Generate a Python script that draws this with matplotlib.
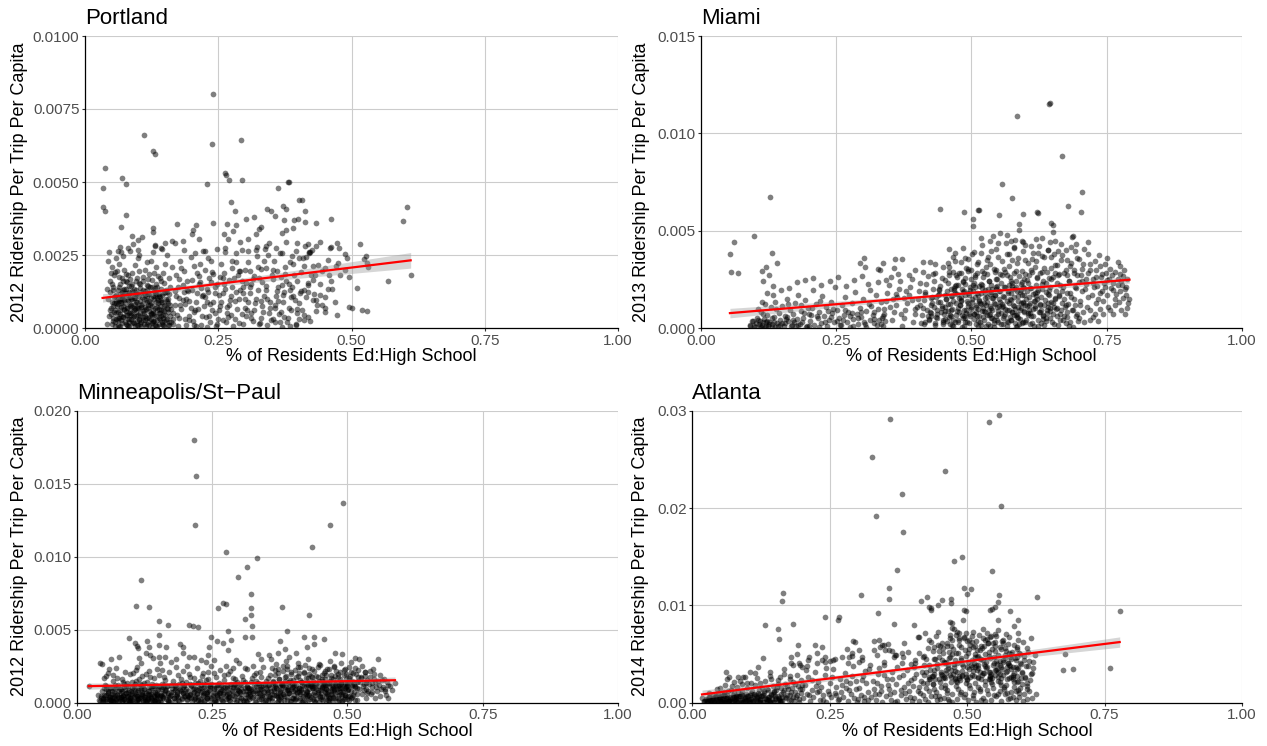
import matplotlib
matplotlib.use("Agg")
import matplotlib.pyplot as plt
import numpy as np

plt.rcParams['font.family'] = ['Liberation Sans', 'DejaVu Sans']

# (share of residents with high school education, ridership per trip per capita x 1e4)
portland = [
    (0.241,80.0),(0.239,63.0),(0.292,64.4),(0.111,66.1),(0.128,60.7),(0.131,59.5),
    (0.038,54.9),(0.034,47.8),(0.033,41.3),(0.038,40.0),(0.070,51.4),(0.076,49.3),(0.077,38.7),
    (0.228,49.3),(0.262,53.0),(0.264,52.4),(0.270,50.8),(0.294,50.8),(0.363,47.8),(0.381,50.0),(0.383,50.0),
    (0.401,43.8),(0.371,41.9),(0.377,40.8),(0.341,40.8),(0.349,40.1),(0.356,38.5),(0.274,43.1),(0.281,40.1),
    (0.241,36.1),(0.413,40.2),(0.392,37.0),(0.407,44.0),(0.413,36.4),(0.433,35.8),(0.461,37.4),(0.400,37.3),
    (0.604,41.5),(0.597,36.6),(0.172,35.5),(0.0675,34.5),(0.0875,31.6),(0.099,30.1),(0.1075,31.2),(0.128,34.1),(0.127,33.0),
    (0.203,33.6),(0.209,35.3),(0.200,32.1),(0.214,30.4),(0.266,35.5),(0.2825,35.3),(0.261,32.2),(0.278,33.2),(0.2675,30.4),
    (0.306,30.4),(0.320,32.2),(0.303,37.3),(0.330,34.5),(0.326,33.8),(0.3175,38.1),(0.374,36.9),(0.378,33.6),(0.390,34.4),(0.370,32.6),
    (0.516,28.9),
    (0.184,29.9),(0.164,29.8),(0.290,29.6),(0.346,29.2),(0.340,28.1),(0.359,27.3),(0.377,29.6),(0.397,29.2),(0.4125,28.1),(0.420,25.6),(0.425,26.7),(0.440,29.6),(0.459,27.3),
    (0.322,27.6),(0.320,26.7),(0.344,25.0),(0.370,25.6),(0.3875,24.7),(0.409,23.9),
    (0.169,29.0),(0.150,29.0),(0.131,28.4),(0.1425,27.3),(0.100,26.7),(0.081,27.3),(0.066,27.9),(0.0625,26.4),(0.045,26.1),(0.090,28.8),
    (0.186,26.7),(0.206,25.6),(0.222,26.5),(0.231,23.9),(0.248,26.9),(0.2625,26.1),(0.284,25.6),(0.294,26.7),
    (0.473,29.2),(0.477,27.5),(0.461,27.6),(0.487,25.4),(0.491,23.9),(0.433,28.2),(0.419,28.8),(0.4205,25.9),(0.4225,25.9),(0.414,24.4),
    (0.528,24.7),(0.524,23.6),(0.530,22.1),(0.531,21.0),
    (0.410,21.2),(0.4275,21.2),(0.450,20.4),(0.470,21.2),(0.4745,22.3),
    (0.487,19.8),(0.458,18.2),(0.4775,18.2),(0.496,17.5),(0.431,18.2),(0.428,16.4),(0.419,14.7),(0.410,13.0),(0.414,10.7),(0.419,12.4),
    (0.451,10.5),(0.434,9.6),(0.436,8.0),(0.4455,8.0),(0.4185,3.6),(0.422,2.3),(0.469,8.8),(0.4075,6.3),(0.410,4.6),
    (0.511,13.8),(0.496,7.3),(0.501,6.7),(0.5205,6.2),(0.529,5.7),(0.568,16.2),(0.611,18.3),
    (0.44,15.0),(0.455,13.5),(0.462,16.0),(0.445,19.5),(0.43,11.5),(0.45,5.5),
    (0.042,1.5),(0.045,4),(0.048,7),(0.044,10),(0.047,12.5),(0.052,2.5),(0.055,5.5),(0.05,9),(0.053,14),(0.057,11),
    (0.058,3),(0.06,7.5),(0.041,13.5),(0.046,16),(0.055,18),(0.05,21),(0.043,23),(0.06,19.5),(0.058,24),(0.048,19),
    (0.062,1),(0.064,3.5),(0.066,6),(0.068,8.5),(0.07,11),(0.072,13),(0.065,15),(0.075,2),(0.077,4.5),(0.079,7),
    (0.074,9.5),(0.078,12),(0.061,10),(0.069,17),(0.073,20),(0.076,16),(0.063,22),(0.071,24.5),(0.08,18),(0.067,26),
    (0.081,0.8),(0.083,3),(0.085,5.5),(0.087,8),(0.089,10),(0.082,12.5),(0.086,14.5),(0.09,2),(0.092,4),(0.094,6.5),
    (0.096,9),(0.098,11.5),(0.091,13.5),(0.095,16),(0.088,19),(0.093,21.5),(0.099,24),(0.084,26.5),(0.097,1),(0.1,7),
    (0.101,3),(0.103,5),(0.105,8),(0.107,10.5),(0.109,13),(0.111,1.5),(0.113,4),(0.115,6.5),(0.117,9),(0.119,11.5),
    (0.104,15),(0.108,17.5),(0.112,20),(0.116,22.5),(0.102,25),(0.118,14.5),(0.106,2),(0.114,0.8),(0.11,6),(0.12,3.5),
    (0.121,1),(0.123,5),(0.125,7.5),(0.127,2.5),(0.129,10),(0.131,12.5),(0.122,14),(0.126,16.5),(0.13,19),(0.134,21),
    (0.133,4),(0.135,6),(0.137,8.5),(0.139,1.5),(0.124,23),(0.128,26),(0.132,28),(0.136,14),(0.138,11),(0.14,17),
    (0.141,3),(0.143,6),(0.145,9),(0.147,1),(0.149,12),(0.151,4.5),(0.153,7),(0.155,10),(0.157,2),(0.159,14),
    (0.142,16),(0.146,19),(0.15,22),(0.154,25),(0.158,17),(0.144,27),(0.148,0.8),(0.152,13),(0.156,5.5),(0.16,8),
    (0.051,1.2),(0.053,3.3),(0.056,6.1),(0.059,8.4),(0.054,10.6),(0.057,0.6),(0.062,2.7),(0.065,4.9),(0.067,7.2),(0.063,9.1),
    (0.066,11.8),(0.069,1.8),(0.071,3.9),(0.073,6.4),(0.075,8.7),(0.072,10.9),(0.078,0.9),(0.08,3.2),(0.082,5.3),(0.084,7.6),
    (0.086,9.8),(0.081,11.4),(0.088,1.6),(0.09,3.7),(0.092,6.0),(0.094,8.2),(0.091,10.3),(0.096,12.1),(0.098,2.4),(0.1,4.6),
    (0.102,6.8),(0.104,9.3),(0.101,11.0),(0.106,0.7),(0.108,2.9),(0.11,5.1),(0.112,7.3),(0.114,9.7),(0.111,12.0),(0.116,1.4),
    (0.118,3.6),(0.12,5.8),(0.122,8.0),(0.124,10.2),(0.121,11.9),(0.126,0.5),(0.128,2.2),(0.13,4.4),(0.132,6.7),(0.134,8.9),
    (0.131,10.8),(0.136,2.8),(0.138,5.0),(0.14,7.4),(0.142,9.5),(0.139,11.6),(0.144,1.3),(0.146,3.4),(0.148,5.7),(0.15,7.9),
    (0.152,10.0),(0.154,3.0),(0.156,8.6),(0.158,0.9),(0.16,4.2),(0.058,5.0),(0.07,9.9),(0.083,2.1),(0.095,5.4),(0.107,8.1),
    (0.119,1.9),(0.127,6.2),(0.135,0.6),(0.143,4.1),(0.061,12.9),(0.076,13.4),(0.089,12.7),(0.103,13.8),(0.117,13.1),(0.129,12.6),
    (0.145,11.3),(0.052,7.7),(0.064,0.5),(0.077,5.9),(0.093,0.8),(0.109,3.8),(0.123,3.1),(0.137,9.6),(0.149,2.5),(0.155,6.4),
    (0.085,10.6),(0.097,7.1),(0.113,11.2),(0.125,4.7),(0.133,11.5),(0.141,5.2),(0.153,12.4),(0.068,4.0),(0.079,10.1),(0.087,4.5),
    (0.047,6.3),(0.083,0.4),(0.121,9.2),(0.064,14.1),(0.139,3.3),(0.098,17.2),(0.056,2.1),(0.112,12.6),(0.071,7.7),(0.149,15.4),
    (0.087,5.1),(0.126,1.8),(0.059,11.3),(0.104,4.2),(0.143,8.8),(0.076,18.6),(0.118,6.7),(0.051,15.2),(0.094,10.4),(0.132,13.7),
    (0.068,2.9),(0.155,1.1),(0.081,9.6),(0.109,16.1),(0.062,5.5),(0.127,11.1),(0.099,0.9),(0.146,6.2),(0.073,13.2),(0.115,3.4),
    (0.054,8.4),(0.137,17.9),(0.089,7.2),(0.123,4.9),(0.066,10.1),(0.151,12.2),(0.102,2.6),(0.079,15.8),(0.134,0.7),(0.057,19.3),
    (0.096,13.1),(0.119,7.9),(0.072,3.7),(0.141,10.7),(0.085,16.7),(0.108,5.9),(0.061,8.1),(0.129,2.4),(0.093,11.8),(0.153,9.1),
    (0.077,1.3),(0.116,14.6),(0.049,4.7),(0.138,6.4),(0.101,19.6),(0.069,12.3),(0.124,8.5),(0.086,3.1),(0.147,4.4),(0.063,17.4),
    (0.111,9.9),(0.091,1.6),(0.133,15.1),(0.074,6.1),(0.157,11.6),(0.105,7.1),(0.053,12.9),(0.128,5.3),(0.082,14.4),(0.144,2.2),
    (0.097,8.9),(0.066,0.8),(0.121,18.4),(0.088,12.1),(0.161,6.6),(0.113,2.9),(0.058,9.3),(0.136,10.3),(0.079,4.6),(0.102,15.5),
    (0.166,3.1),(0.071,16.2),(0.125,13.9),(0.092,6.9),(0.148,7.6),(0.061,3.4),(0.117,10.9),(0.084,8.2),(0.131,0.9),(0.106,12.5),
    (0.075,11.9),(0.142,13.3),(0.095,4.1),(0.119,16.8),(0.067,9.4),(0.152,2.7),(0.089,14.9),(0.135,7.3),(0.103,1.2),(0.078,6.8),
    (0.162,2),(0.165,5),(0.168,8),(0.171,11),(0.174,14),(0.177,3.5),(0.18,6.5),(0.183,9.5),(0.186,12.5),(0.189,1),
    (0.192,16),(0.195,4),(0.198,7),(0.17,18),(0.185,19.5),(0.175,0.7),(0.19,10),(0.2,13),(0.163,21),(0.178,23),
    (0.202,2.5),(0.205,5.5),(0.208,9),(0.211,12),(0.214,15),(0.217,1),(0.22,4),(0.223,7.5),(0.226,10.5),(0.229,13.5),
    (0.232,17),(0.235,2),(0.238,6),(0.241,9),(0.244,12),(0.247,15),(0.25,3),(0.21,19),(0.225,20),(0.24,18.5),
    (0.215,22),(0.236,23),(0.245,0.8),(0.228,0.5),
    (0.252,6),(0.255,9),(0.258,12),(0.261,15),(0.264,2),(0.267,5),(0.27,8),(0.273,11),(0.276,14),(0.279,17),
    (0.282,3),(0.285,6.5),(0.288,10),(0.291,13),(0.294,16),(0.297,1.5),(0.3,7),(0.26,19),(0.275,20.5),(0.29,19.5),
    (0.256,22),(0.283,22.5),(0.3,20),
    (0.303,4),(0.306,9),(0.309,12),(0.312,15),(0.315,2.5),(0.318,6),(0.321,10),(0.324,13),(0.327,17),(0.33,3.5),
    (0.333,7.5),(0.336,11),(0.339,14.5),(0.342,1),(0.345,5),(0.348,9),(0.35,18),(0.31,19.5),(0.325,21),(0.34,20.5),
    (0.305,22.5),(0.335,23),
    (0.353,3),(0.356,7),(0.359,11),(0.362,14),(0.365,2),(0.368,5.5),(0.371,9),(0.374,12.5),(0.377,16),(0.38,3.5),
    (0.383,7),(0.386,10.5),(0.389,14),(0.392,18),(0.395,1.5),(0.398,5),(0.401,8.5),(0.404,12),(0.36,19.5),(0.375,21),
    (0.39,22),(0.355,23),(0.385,0.8),(0.37,0.5),
    (0.165,1.5),(0.172,4.5),(0.179,7.8),(0.188,3.2),(0.196,9.4),(0.204,1.1),(0.212,6.6),(0.219,10.8),(0.227,3.9),(0.234,8.2),
    (0.243,5.1),(0.251,11.4),(0.259,2.6),(0.266,7.3),(0.274,4.4),(0.281,9.1),(0.289,1.8),(0.296,11.9),(0.304,6.2),(0.311,3.3),
    (0.319,8.4),(0.326,1.2),(0.334,5.6),(0.341,10.1),(0.349,2.9),(0.357,7.9),(0.364,4.8),(0.372,11.2),(0.379,1.9),(0.387,6.3),
    (0.394,9.7),(0.402,3.1),(0.169,12.6),(0.183,14.8),(0.201,16.5),(0.218,13.7),(0.237,15.9),(0.253,17.3),(0.271,16.4),(0.287,18.1),
    (0.302,15.3),(0.317,17.8),(0.333,15.6),(0.352,16.8),(0.367,17.4),(0.382,15.2),(0.398,16.1),(0.406,19.2),(0.176,10.2),(0.193,12.8),
    (0.209,0.6),(0.231,12.3),(0.262,13.4),(0.278,0.7),(0.309,13.9),(0.331,9.2),(0.361,12.6),(0.384,13.1),(0.396,0.9),(0.214,17.9),
    (0.187,8.1),(0.243,14.2),(0.311,5.3),(0.376,18.4),(0.428,9.7),(0.205,21.3),(0.268,3.6),(0.339,12.9),(0.402,24.1),(0.451,6.8),
    (0.221,11.4),(0.289,19.6),(0.357,2.2),(0.418,15.3),(0.176,16.7),(0.254,7.4),(0.323,24.6),(0.391,10.9),(0.463,13.2),(0.233,4.1),
    (0.301,9.8),(0.369,14.6),(0.437,21.7),(0.196,2.8),(0.276,22.8),(0.347,6.7),(0.411,2.9),(0.215,15.9),(0.283,12.2),(0.352,19.9),
    (0.472,4.4),(0.181,20.4),(0.258,17.1),(0.329,1.6),(0.398,6.4),(0.226,26.3),(0.294,4.9),(0.362,9.2),(0.424,18.1),(0.191,12.9),
    (0.247,1.4),(0.316,16.8),(0.384,22.6),(0.456,23.4),(0.207,6.2),(0.272,9.5),(0.337,27.1),(0.405,12.6),(0.238,19.3),(0.305,26.4),
    (0.373,3.9),(0.441,11.3),(0.199,24.2),(0.263,27.4),(0.331,20.3),(0.395,26.2),(0.228,8.9),(0.297,14.1),(0.366,25.8),(0.433,5.7),
]

miami = [
    (0.1274,67.4),(0.098,47.4),(0.062,44.0),(0.054,37.8),(0.0565,28.6),(0.0695,28.4),(0.132,38.4),(0.1415,33.2),
    (0.1215,31.2),(0.113,29.5),(0.126,27.0),(0.116,24.0),(0.134,21.8),(0.122,18.0),(0.113,13.6),
    (0.4427,61.3),(0.643,115.0),(0.645,115.5),(0.584,109.0),(0.668,88.2),(0.557,74.1),(0.576,66.6),(0.704,70.0),
    (0.678,62.7),(0.702,59.8),(0.512,60.5),(0.514,60.6),(0.5025,56.2),(0.5025,52.4),(0.486,59.4),(0.552,58.2),
    (0.595,58.4),(0.621,59.6),(0.623,59.0),(0.588,53.5),(0.588,50.1),(0.647,53.8),(0.6515,53.0),(0.6515,49.5),
    (0.6865,46.9),(0.688,47.2),(0.715,44.2),
    (0.518,46.1),(0.5345,44.7),(0.5405,47.3),(0.553,48.6),(0.565,47.9),(0.581,45.2),(0.593,44.7),
    (0.75,36.1),(0.735,37.5),(0.7745,32.0),(0.782,29.8),(0.79,12.7),(0.788,10.1),(0.762,7.2),(0.744,7.2),(0.7345,3.8),
    (0.78,15.5),(0.775,19),(0.785,17),(0.765,15),(0.768,17.5),(0.772,13.5),(0.74,26),(0.748,28),(0.755,25),(0.745,23),
    (0.76,27),(0.77,22),(0.758,20.5),(0.752,11),(0.776,9),(0.73,13),(0.738,18),(0.727,21),(0.72,9),(0.725,5.5),
    (0.715,16),(0.712,25),(0.705,19),(0.7,12),(0.695,7),(0.708,3),
    (0.5643,43.8),(0.5797,41.8),(0.5951,39.3),(0.6105,42.1),(0.6228,38.4),(0.6413,40.1),(0.6475,36.3),(0.66,39.3),
    (0.6753,40.1),(0.6907,39.3),(0.7079,40.8),(0.546,40.4),(0.5304,36.6),(0.5128,34.1),(0.4943,35.3),(0.4697,34.6),
    (0.4326,32.7),(0.4234,34.1),(0.3589,35.3),(0.3712,35.3),(0.3362,33.6),(0.331,29.8),
    (0.294,33.2),(0.302,36.1),(0.3035,31.4),(0.328,30.1),(0.358,30.6),(0.396,29.7),(0.411,34.0),(0.433,28.0),(0.448,31.4),(0.4575,33.2),
    (0.47,38.5),(0.49,31),(0.505,39),(0.52,29.5),(0.535,33),(0.55,36.5),(0.56,30.5),(0.57,38),(0.585,33.5),(0.6,35),
    (0.61,30),(0.62,34.5),(0.635,31),(0.645,44),(0.655,32.5),(0.665,35),(0.675,30),(0.685,33.5),(0.695,36),(0.705,30.5),
    (0.72,33),(0.73,30),(0.62,45.5),(0.6,42.5),(0.665,43),(0.63,37),(0.575,35),(0.545,30),(0.5,30),(0.48,28.5),
    (0.092,1.2),(0.097,3.4),(0.101,0.6),(0.104,5.1),(0.107,2.2),(0.111,8.3),(0.114,1.5),(0.117,4.4),(0.12,0.9),(0.123,6.7),
    (0.126,3.1),(0.129,10.6),(0.132,1.8),(0.135,5.6),(0.138,13.4),(0.141,2.7),(0.144,7.9),(0.147,4.1),(0.15,11.2),(0.153,0.8),
    (0.156,6.3),(0.159,15.1),(0.162,3.5),(0.165,9.4),(0.168,1.3),(0.171,7.1),(0.174,12.8),(0.177,4.6),(0.18,17.2),(0.183,2.1),
    (0.186,8.8),(0.189,5.3),(0.192,14.2),(0.195,0.7),(0.198,10.1),(0.201,3.8),(0.204,6.9),(0.207,19.4),(0.21,1.6),(0.213,12.3),
    (0.216,4.9),(0.219,8.1),(0.222,2.4),(0.225,16.3),(0.228,6.1),(0.231,10.9),(0.234,0.9),(0.237,4.2),(0.24,13.6),(0.243,7.5),
    (0.246,2.9),(0.249,21.1),(0.252,9.2),(0.255,5.1),(0.258,1.4),(0.261,11.7),(0.264,6.6),(0.267,15.8),(0.27,3.3),(0.273,8.4),
    (0.276,0.6),(0.279,12.9),(0.282,4.7),(0.285,18.3),(0.288,7.2),(0.291,2.3),(0.294,10.4),(0.297,5.8),(0.3,14.7),(0.303,1.9),
    (0.306,8.9),(0.309,22.4),(0.312,4.3),(0.315,11.3),(0.318,6.8),(0.321,2.6),(0.324,16.9),(0.327,9.7),(0.33,3.9),(0.333,13.1),
    (0.336,0.8),(0.339,7.4),(0.105,9.8),(0.118,12.4),(0.133,16.8),(0.148,19.7),(0.163,20.8),(0.178,23.4),(0.193,24.9),(0.208,25.6),
    (0.223,22.2),(0.238,24.3),(0.253,26.1),(0.268,21.7),(0.283,24.6),(0.298,26.9),(0.313,19.6),(0.328,23.7),(0.11,3.6),(0.125,1.1),
    (0.14,9.6),(0.155,2.6),(0.17,4.3),(0.185,11.6),(0.2,0.9),(0.215,6.4),(0.23,3.1),(0.245,9.9),(0.26,1.7),(0.275,6.1),
    (0.29,4.9),(0.305,0.7),(0.32,8.2),(0.335,5.2),(0.116,7.1),(0.131,5.2),(0.146,1.3),(0.161,12.1),(0.176,0.8),(0.191,7.6),
    (0.206,10.3),(0.221,13.9),(0.236,8.6),(0.251,3.7),(0.266,9.3),(0.281,1.2),(0.296,8.1),(0.311,12.4),(0.326,1.4),(0.12,2.9),
    (0.16,5.9),(0.2,7.4),(0.24,5.5),(0.28,7.8),(0.32,4.6),(0.137,0.5),(0.172,2.9),(0.218,0.6),(0.262,4.3),(0.302,3.2),
    (0.091,1.3),(0.095,3.6),(0.099,0.8),(0.103,2.4),(0.106,4.1),(0.109,1.1),(0.112,0.6),(0.115,2.9),(0.119,0.7),(0.122,3.8),
    (0.126,1.9),(0.131,0.5),(0.136,3.3),(0.142,0.9),(0.151,2.6),(0.158,4.6),(0.166,0.8),(0.179,1.6),(0.188,3.1),(0.197,0.9),
    (0.333,2),(0.336,6),(0.339,10),(0.342,14),(0.345,18),(0.348,22),(0.351,26),(0.354,4),(0.357,8),(0.36,12),
    (0.363,16),(0.366,20),(0.369,24),(0.372,1),(0.375,5),(0.378,9),(0.381,13),(0.384,17),(0.387,21),(0.39,25),
    (0.393,3),(0.396,7),(0.399,11),(0.34,3.5),(0.35,11),(0.36,17.5),(0.37,7),(0.38,19),(0.39,14.5),(0.395,10),
    (0.343,24.5),(0.365,27.5),(0.385,27),(0.355,15),(0.375,15.5),
    (0.401,15),(0.403,19),(0.405,23),(0.407,2.5),(0.409,6.5),(0.411,10.5),(0.413,14.5),(0.415,18.5),(0.417,22.5),(0.419,26.5),
    (0.421,4),(0.423,8),(0.425,12),(0.427,16),(0.429,20),(0.431,24),(0.433,1.5),(0.435,5.5),(0.437,9.5),(0.439,13.5),
    (0.441,17.5),(0.443,21.5),(0.445,25.5),(0.447,3),(0.449,7),(0.41,29),(0.43,27.5),(0.445,11.5),(0.405,12),(0.425,6),
    (0.44,20),(0.415,3),(0.435,16),
    (0.451,11),(0.453,15),(0.455,19),(0.457,23),(0.459,27),(0.461,2),(0.463,6),(0.465,10),(0.467,14),(0.469,18),
    (0.471,22),(0.473,26),(0.475,4),(0.477,8),(0.479,12),(0.481,16),(0.483,20),(0.485,24),(0.487,1),(0.489,5),
    (0.491,9),(0.493,13),(0.495,17),(0.497,21),(0.499,25),(0.452,4.5),(0.456,8.5),(0.46,12.5),(0.464,16.5),(0.468,20.5),
    (0.472,6.5),(0.476,10.5),(0.48,14.5),(0.484,18.5),(0.488,22.5),(0.492,3),(0.496,7),(0.5,11),(0.458,29),(0.478,28),
    (0.494,29.5),(0.466,0.8),(0.486,9),(0.47,3),(0.482,6.5),
    (0.501,15),(0.503,19),(0.505,23),(0.507,27),(0.509,2),(0.511,6),(0.513,10),(0.515,14),(0.517,18),(0.519,22),
    (0.521,26),(0.523,4),(0.525,8),(0.527,12),(0.529,16),(0.531,20),(0.533,24),(0.535,1),(0.537,5),(0.539,9),
    (0.541,13),(0.543,17),(0.545,21),(0.547,25),(0.549,3),(0.504,7),(0.508,11),(0.512,17),(0.516,3),(0.52,8.5),
    (0.524,13),(0.528,27.5),(0.532,6.5),(0.536,10.5),(0.54,15.5),(0.544,29),(0.548,11),(0.51,28.5),(0.526,19.5),(0.542,2.5),
    (0.55,7),(0.518,12.5),(0.534,17.5),
    (0.551,15),(0.553,19),(0.555,23),(0.557,27),(0.559,2),(0.561,6),(0.563,10),(0.565,14),(0.567,18),(0.569,22),
    (0.571,26),(0.573,4),(0.575,8),(0.577,12),(0.579,16),(0.581,20),(0.583,24),(0.585,1),(0.587,5),(0.589,9),
    (0.591,13),(0.593,17),(0.595,21),(0.597,25),(0.599,3),(0.554,7.5),(0.558,11.5),(0.562,29),(0.566,3.5),(0.57,9.5),
    (0.574,14.5),(0.578,28),(0.582,6.5),(0.586,11),(0.59,18.5),(0.594,29.5),(0.598,8),(0.56,16),(0.576,21.5),(0.588,26.5),
    (0.58,2.5),(0.596,13),
    (0.601,15),(0.603,19),(0.605,23),(0.607,27),(0.609,2),(0.611,6),(0.613,10),(0.615,14),(0.617,18),(0.619,22),
    (0.621,26),(0.623,4),(0.625,8),(0.627,12),(0.629,16),(0.631,20),(0.633,24),(0.635,1.5),(0.637,5),(0.639,9),
    (0.641,13),(0.643,17),(0.645,21),(0.647,25),(0.649,3),(0.651,7),(0.653,11),(0.655,15),(0.657,19),(0.659,23),
    (0.661,27),(0.663,4),(0.665,9),(0.667,13),(0.604,7.5),(0.612,29),(0.618,11.5),(0.626,28.5),(0.632,6.5),(0.64,29),
    (0.646,10.5),(0.654,28),(0.662,17),(0.606,12),(0.628,2.5),(0.638,18.5),(0.658,6),
    (0.671,6),(0.674,12),(0.677,18),(0.68,24),(0.683,3),(0.686,9),(0.689,15),(0.692,21),(0.695,27),(0.698,5),
    (0.701,14),(0.704,24),(0.707,8),(0.71,20),(0.713,11),(0.716,28),(0.719,4),(0.722,17),(0.725,23),(0.728,7),
    (0.731,26),(0.734,15),(0.737,10),(0.741,19),(0.744,14),(0.747,21),(0.75,17),(0.756,9),(0.762,23),(0.766,12),
    (0.771,25),(0.775,27.5),(0.779,22),(0.783,20),(0.787,25),(0.792,15),(0.784,7),(0.676,27),(0.68,1),(0.688,0.5),
    (0.69,28),(0.67,21),
    (0.462,9.3),(0.587,14.1),(0.513,3.7),(0.639,7.9),(0.428,12.6),(0.551,18.8),(0.674,2.4),(0.497,6.2),(0.603,11.5),(0.536,22.1),
    (0.448,1.9),(0.619,16.6),(0.572,5.4),(0.481,13.8),(0.658,10.2),(0.524,8.9),(0.414,17.3),(0.596,2.9),(0.543,12.1),(0.685,15.7),
    (0.469,21.4),(0.632,4.6),(0.507,16.1),(0.565,0.9),(0.437,7.1),(0.611,20.3),(0.489,3.2),(0.648,13.3),(0.529,6.8),(0.581,9.7),
    (0.453,14.9),(0.667,19.2),(0.518,1.4),(0.593,23.6),(0.421,4.8),(0.556,10.8),(0.627,8.2),(0.474,17.6),(0.694,6.3),(0.539,15.2),
    (0.601,4.1),(0.446,10.4),(0.575,19.9),(0.508,11.9),(0.653,2.1),(0.491,7.7),(0.617,13.9),(0.433,2.6),(0.562,7.3),(0.679,12.4),
    (0.526,18.1),(0.588,1.8),(0.459,5.6),(0.641,17.4),(0.503,21.9),(0.569,12.9),(0.418,9.2),(0.606,9.1),(0.483,0.7),(0.547,4.3),
    (0.664,7.2),(0.514,14.5),(0.579,6.6),(0.441,19.3),(0.624,1.2),(0.494,11.2),(0.558,16.4),(0.688,9.5),(0.531,2.3),(0.598,17.1),
    (0.467,3.9),(0.635,11.6),(0.522,5.7),(0.583,21.2),(0.426,15.6),(0.549,8.6),(0.671,14.8),(0.487,19.1),(0.614,6.1),(0.541,0.6),
    (0.456,12.2),(0.592,10.4),(0.509,8.1),(0.646,5.3),(0.477,15.3),(0.567,3.1),(0.631,22.7),(0.436,5.1),(0.553,13.6),(0.697,3.8),
    (0.519,20.6),(0.585,7.4),(0.465,1.6),(0.621,15.1),(0.499,9.8),(0.574,17.8),(0.412,2.3),(0.609,12.7),(0.534,11.4),(0.657,9.9),
    (0.444,8.3),(0.589,4.8),(0.516,12.8),(0.643,19.6),(0.484,5.2),(0.561,20.9),(0.676,5.6),(0.527,1.1),(0.598,8.6),(0.451,17.1),
    (0.638,3.4),(0.505,4.4),(0.571,14.7),(0.431,10.9),(0.546,6.3),(0.662,16.2),(0.492,14.1),(0.616,0.8),(0.538,19.8),(0.579,11.3),
    (0.461,6.7),(0.629,9.4),(0.511,17.9),(0.595,13.1),(0.474,8.7),(0.554,2.1),(0.683,18.1),(0.521,10.3),(0.607,15.9),(0.442,13.4),
    (0.566,9.2),(0.651,12.6),(0.496,2.6),(0.582,0.7),(0.425,7.9),(0.544,16.9),(0.669,4.1),(0.515,6.4),(0.622,18.6),(0.479,11.7),
    (0.559,5.2),(0.636,14.3),(0.501,13.2),(0.591,19.4),(0.455,3.5),(0.612,2.8),(0.533,9.4),(0.692,11.9),(0.468,19.7),(0.573,4.2),
    (0.645,8.8),(0.525,15.6),(0.604,6.9),(0.438,16.8),(0.557,12.3),(0.677,8.3),(0.486,6.1),(0.618,10.5),(0.542,3.9),(0.586,16.3),
    (0.452,8.9),(0.633,6.4),(0.512,0.9),(0.599,11.8),(0.471,12.8),(0.548,21.6),(0.661,1.5),(0.528,13.1),(0.613,17.3),(0.494,18.2),
    (0.576,8.1),(0.419,6.1),(0.655,15.4),(0.535,7.1),(0.594,2.4),(0.463,16.2),(0.626,12.1),(0.504,7.3),(0.568,18.9),(0.447,4.3),
    (0.642,10.9),(0.517,22.4),(0.584,5.9),(0.476,2.9),(0.609,7.6),(0.552,11.1),(0.673,10.7),(0.488,16.7),(0.597,20.4),(0.539,4.9),
    (0.452,24.6),(0.458,31.2),(0.463,19.8),(0.467,36.4),(0.472,27.1),(0.476,22.3),(0.481,33.8),(0.485,41.2),(0.489,25.7),(0.494,30.4),
    (0.498,19.3),(0.502,37.9),(0.506,26.2),(0.511,32.7),(0.515,21.8),(0.519,42.6),(0.523,28.4),(0.528,35.1),(0.532,23.9),(0.536,39.4),
    (0.541,30.1),(0.545,25.2),(0.549,43.8),(0.553,27.6),(0.557,34.3),(0.562,21.1),(0.566,38.2),(0.57,31.7),(0.574,24.4),(0.579,40.9),
    (0.583,29.3),(0.587,35.8),(0.591,22.7),(0.596,44.1),(0.6,27.9),(0.604,33.4),(0.608,20.6),(0.613,38.7),(0.617,31.1),(0.621,25.8),
    (0.625,42.2),(0.63,28.8),(0.634,36.6),(0.638,23.2),(0.642,39.9),(0.647,30.7),(0.651,26.4),(0.655,44.6),(0.659,32.2),(0.664,21.9),
    (0.668,37.3),(0.672,28.2),(0.676,34.9),(0.681,24.1),(0.685,41.4),(0.689,29.6),(0.693,20.4),(0.698,35.4),(0.702,27.3),(0.706,32.9),
    (0.711,22.8),(0.715,38.1),(0.719,29.9),(0.724,25.1),(0.728,34.6),(0.733,21.4),(0.737,31.6),(0.742,27.8),(0.746,33.1),(0.751,24.7),
    (0.756,30.3),(0.761,19.6),(0.766,28.6),(0.771,33.7),(0.776,24.2),(0.781,26.9),(0.786,21.2),(0.466,28.9),(0.484,23.6),(0.507,20.9),
    (0.527,31.4),(0.546,20.2),(0.565,27.3),(0.585,19.1),(0.603,24.9),(0.624,19.4),(0.643,25.6),(0.662,27.7),(0.682,31.9),(0.699,23.7),
    (0.537,18.7),(0.575,23.1),(0.612,35.6),(0.652,37.8),(0.694,43.3),(0.631,46.2),(0.573,44.9),(0.518,38.3),(0.488,36.2),(0.459,40.6),
]

minneapolis = [
    (0.2167,179.7),(0.221,155.3),(0.219,121.5),(0.276,103.0),(0.3337,99.1),(0.3146,93.0),(0.2986,86.3),(0.1188,84.0),
    (0.1096,66.2),(0.134,65.3),(0.2605,64.7),(0.2708,68.5),(0.276,67.4),(0.3215,74.2),(0.3215,64.7),(0.3215,60.1),
    (0.311,57.1),(0.380,65.8),(0.4297,60.1),(0.4347,106.4),(0.468,121.7),(0.4926,136.6),(0.1527,56.2),(0.1693,53.2),
    (0.208,53.2),(0.2155,52.5),(0.2236,51.6),(0.2475,44.8),(0.3233,45.2),(0.279,49.3),(0.389,49.1),(0.42,44.8),
    (0.438,45.2),(0.438,40.2),(0.426,38.4),(0.456,43.8),(0.4766,34.3),(0.4907,33.6),(0.5147,30.6),(0.522,29.7),
    (0.556,29.7),(0.588,13.3),(0.5603,19.0),(0.5332,21.3),
    (0.0221,11.6),(0.0431,26.9),(0.0467,26.5),(0.0627,30.2),(0.0775,31.1),(0.0603,22.8),(0.0541,18.3),(0.0665,19.0),
    (0.0972,44.0),(0.107,41.0),(0.1132,37.2),(0.1108,38.7),(0.1293,42.3),(0.133,38.0),(0.128,34.3),(0.1354,32.7),
    (0.1404,30.4),(0.1157,30.4),(0.1188,27.0),(0.1096,22.4),(0.1527,46.1),(0.165,38.4),(0.1527,39.6),(0.1515,31.6),
    (0.164,31.1),(0.154,27.4),(0.1908,40.2),(0.197,38.0),(0.1958,34.3),(0.2081,31.1),(0.1835,30.0),(0.1742,28.1),
    (0.217,31.5),(0.2296,29.2),(0.242,32.7),(0.2389,28.1),(0.2543,29.2),(0.245,38.0),(0.2587,42.5),(0.271,40.7),
    (0.2857,42.9),(0.279,36.1),(0.2943,29.2),(0.3005,27.0),(0.3116,44.8),(0.3233,52.5),
    (0.3343,33.4),(0.3405,29.9),(0.356,32.7),(0.3713,34.3),(0.3756,42.1),(0.359,29.9),(0.3855,36.5),(0.393,31.5),(0.4052,33.8),
    (0.5603,4.5),(0.546,7),(0.53,9),(0.51,5.5),(0.49,8),(0.5,12),(0.52,15),(0.54,12.5),(0.55,16.5),(0.57,8),
    (0.575,3.5),(0.565,11),(0.535,3),
    (0.045,3.2),(0.047,8.1),(0.049,1.1),(0.051,5.6),(0.053,12.4),(0.055,2.3),(0.057,7.4),(0.059,4.1),(0.061,10.2),(0.063,0.8),
    (0.065,6.3),(0.067,14.8),(0.069,3.5),(0.071,9.1),(0.073,1.9),(0.075,5.2),(0.077,12.1),(0.079,7.8),(0.081,2.6),(0.083,16.5),
    (0.085,4.8),(0.087,10.9),(0.089,1.2),(0.091,6.7),(0.093,13.6),(0.095,3.9),(0.097,8.8),(0.099,19.4),(0.05,16.8),(0.058,20.1),
    (0.066,1.5),(0.074,17.2),(0.082,9.6),(0.09,21.3),(0.098,0.9),(0.072,23.8),(0.086,14.1),(0.094,11.3),
    (0.101,2.1),(0.103,6.9),(0.105,11.5),(0.107,4.3),(0.109,15.2),(0.111,1.3),(0.113,8.6),(0.115,3.1),(0.117,12.8),(0.119,5.9),
    (0.121,18.3),(0.123,0.7),(0.125,9.7),(0.127,2.8),(0.129,14.1),(0.131,6.2),(0.133,21.6),(0.135,4.5),(0.137,10.8),(0.139,1.6),
    (0.141,7.3),(0.143,16.9),(0.145,3.7),(0.147,12.2),(0.149,5.1),(0.104,20.5),(0.112,24.2),(0.118,9.1),(0.124,13.4),(0.13,0.9),
    (0.136,17.8),(0.142,11.6),(0.148,23.1),(0.108,7.8),(0.116,16.3),(0.126,5.4),(0.134,8.2),(0.144,1.0),(0.102,13.9),(0.128,19.7),
    (0.151,9.3),(0.153,1.4),(0.155,6.8),(0.157,13.1),(0.159,3.6),(0.161,17.4),(0.163,8.9),(0.165,2.2),(0.167,11.7),(0.169,5.3),
    (0.171,20.8),(0.173,0.6),(0.175,7.6),(0.177,14.6),(0.179,3.3),(0.181,10.1),(0.183,24.4),(0.185,5.8),(0.187,1.8),(0.189,12.5),
    (0.191,8.4),(0.193,16.1),(0.195,2.9),(0.197,6.5),(0.199,11.1),(0.152,19.2),(0.158,22.7),(0.164,15.4),(0.17,4.2),(0.176,9.8),
    (0.182,1.1),(0.188,18.9),(0.194,13.7),(0.2,4.6),(0.156,10.5),(0.168,0.9),(0.174,12.3),(0.186,7.2),(0.196,21.9),(0.162,6.1),
    (0.201,14.3),(0.203,2.4),(0.205,8.1),(0.207,19.5),(0.209,5.2),(0.211,11.9),(0.213,1.2),(0.215,6.9),(0.217,16.8),(0.219,3.8),
    (0.221,9.6),(0.223,23.5),(0.225,13.2),(0.227,0.8),(0.229,7.4),(0.231,18.1),(0.233,4.4),(0.235,10.7),(0.237,2.1),(0.239,15.6),
    (0.241,6.3),(0.243,21.2),(0.245,8.8),(0.247,1.6),(0.249,12.6),(0.204,25.3),(0.21,17.4),(0.216,10.4),(0.222,5.7),(0.228,14.9),
    (0.234,20.6),(0.24,3.1),(0.246,11.3),(0.212,3.4),(0.218,13.5),(0.224,1.9),(0.23,9.9),(0.236,6.8),(0.242,16.2),(0.248,24.8),
    (0.251,5.4),(0.253,10.2),(0.255,1.3),(0.257,17.7),(0.259,7.1),(0.261,3.2),(0.263,13.8),(0.265,22.1),(0.267,9.3),(0.269,0.9),
    (0.271,5.9),(0.273,15.3),(0.275,2.7),(0.277,11.4),(0.279,19.8),(0.281,6.6),(0.283,1.5),(0.285,13.1),(0.287,8.5),(0.289,24.1),
    (0.291,4.3),(0.293,16.4),(0.295,10.6),(0.297,1.9),(0.299,7.7),(0.254,20.3),(0.26,12.4),(0.266,4.8),(0.272,18.7),(0.278,8.3),
    (0.284,21.4),(0.29,11.9),(0.296,14.5),(0.258,0.7),(0.264,6.4),(0.27,10.9),(0.276,25.1),(0.282,3.6),(0.288,17.2),(0.294,6.1),
    (0.301,12.7),(0.303,3.3),(0.305,18.6),(0.307,7.9),(0.309,1.4),(0.311,14.2),(0.313,5.7),(0.315,22.9),(0.317,10.3),(0.319,2.6),
    (0.321,8.7),(0.323,16.7),(0.325,4.1),(0.327,11.6),(0.329,0.8),(0.331,20.4),(0.333,6.8),(0.335,13.4),(0.337,2.3),(0.339,9.2),
    (0.341,17.9),(0.343,5.3),(0.345,24.6),(0.347,12.1),(0.349,1.7),(0.304,9.7),(0.31,23.7),(0.316,6.2),(0.322,13.9),(0.328,19.1),
    (0.334,3.8),(0.34,11.2),(0.346,7.4),(0.302,0.9),(0.308,15.8),(0.314,10.8),(0.32,4.9),(0.326,25.4),(0.332,15.1),(0.338,20.9),
    (0.344,0.6),(0.35,14.7),
    (0.351,6.5),(0.353,11.8),(0.355,2.9),(0.357,19.3),(0.359,8.2),(0.361,1.1),(0.363,14.4),(0.365,5.1),(0.367,22.4),(0.369,10.1),
    (0.371,3.7),(0.373,16.2),(0.375,7.3),(0.377,0.9),(0.379,12.9),(0.381,25.2),(0.383,4.6),(0.385,9.4),(0.387,18.2),(0.389,2.1),
    (0.391,13.6),(0.393,6.9),(0.395,21.1),(0.397,10.7),(0.399,3.4),(0.354,16.9),(0.36,24.1),(0.366,12.8),(0.372,20.2),(0.378,4.2),
    (0.384,14.9),(0.39,8.9),(0.396,1.5),(0.358,4.1),(0.364,9.1),(0.37,0.7),(0.376,11.1),(0.382,6.2),(0.388,23.3),(0.394,15.8),(0.4,7.8),
    (0.401,12.3),(0.403,1.8),(0.405,17.4),(0.407,6.4),(0.409,24.3),(0.411,9.8),(0.413,3.1),(0.415,14.1),(0.417,7.6),(0.419,20.7),
    (0.421,1.2),(0.423,11.4),(0.425,4.7),(0.427,16.6),(0.429,9.1),(0.431,2.6),(0.433,13.1),(0.435,22.8),(0.437,5.9),(0.439,10.5),
    (0.441,0.8),(0.443,18.6),(0.445,7.1),(0.447,14.8),(0.449,3.9),(0.404,8.6),(0.41,20.1),(0.416,11.9),(0.422,26.1),(0.428,5.3),
    (0.434,17.7),(0.44,13.6),(0.446,24.4),(0.406,3.3),(0.412,15.3),(0.418,0.9),(0.424,8.1),(0.43,19.4),(0.436,2.4),(0.442,9.7),(0.448,11.2),
    (0.451,6.7),(0.453,15.9),(0.455,2.1),(0.457,10.3),(0.459,21.5),(0.461,4.8),(0.463,12.9),(0.465,8.3),(0.467,1.4),(0.469,17.1),
    (0.471,6.1),(0.473,11.7),(0.475,25.1),(0.477,3.4),(0.479,14.3),(0.481,9.2),(0.483,19.8),(0.485,1.9),(0.487,7.4),(0.489,13.5),
    (0.491,4.4),(0.493,22.3),(0.495,10.1),(0.497,16.4),(0.499,2.8),(0.502,8.8),(0.505,14.7),(0.508,3.6),(0.511,20.3),(0.514,11.1),
    (0.517,6.3),(0.52,17.6),(0.454,19.1),(0.46,9.6),(0.466,23.2),(0.472,0.8),(0.478,18.4),(0.484,12.1),(0.49,0.9),(0.496,5.6),
    (0.503,24.7),(0.509,12.4),(0.515,1.6),(0.518,9.9),(0.456,13.7),(0.474,3.1),
    (0.062,4.1),(0.177,7.3),(0.291,2.2),(0.405,9.6),(0.118,11.8),(0.233,5.4),(0.347,0.9),(0.461,6.7),(0.089,8.8),(0.204,1.7),
    (0.319,10.3),(0.433,3.9),(0.146,6.2),(0.261,12.4),(0.376,4.6),(0.49,1.3),(0.075,0.6),(0.19,9.1),(0.304,5.8),(0.419,11.2),
    (0.132,2.7),(0.247,7.9),(0.362,13.1),(0.476,8.4),(0.103,5.3),(0.218,3.1),(0.333,8.6),(0.447,0.8),(0.16,10.7),(0.275,4.3),
    (0.39,6.9),(0.504,4.7),(0.055,9.4),(0.169,2.1),(0.283,11.6),(0.398,3.2),(0.111,7.6),(0.226,10.2),(0.341,2.6),(0.455,12.1),
    (0.082,3.6),(0.197,6.6),(0.312,1.1),(0.426,8.1),(0.139,12.9),(0.254,0.7),(0.369,9.9),(0.483,3.4),(0.096,1.9),(0.211,11.4),
    (0.325,6.4),(0.44,5.1),(0.153,4.8),(0.268,8.9),(0.383,1.6),(0.497,10.6),(0.068,7.1),(0.183,4.4),(0.297,9.3),(0.412,2.1),
    (0.125,9.1),(0.24,2.9),(0.355,11.9),(0.469,5.9),(0.048,2.6),(0.162,12.2),(0.277,6.1),(0.391,10.4),(0.506,7.8),(0.117,3.9),
    (0.231,8.3),(0.346,4.9),(0.461,0.9),(0.088,12.6),(0.203,5.6),(0.318,7.4),(0.432,11.1),(0.145,1.4),(0.26,3.7),(0.375,7.9),
    (0.489,12.7),(0.074,5.9),(0.189,0.9),(0.303,12.1),(0.418,4.6),(0.131,8.2),(0.246,11.2),(0.361,3.1),(0.475,9.6),(0.102,10.1),
    (0.217,7.1),(0.332,0.6),(0.446,6.3),(0.159,3.4),(0.274,10.9),(0.389,8.7),(0.503,1.9),(0.054,11.2),(0.168,6.8),(0.282,1.8),
    (0.397,12.5),(0.11,0.8),(0.225,4.1),(0.34,9.4),(0.454,3.6),(0.081,6.4),(0.196,10.5),(0.311,3.5),(0.425,7.1),(0.138,5.7),
    (0.253,9.7),(0.368,5.3),(0.482,11.4),(0.095,4.4),(0.21,12.8),(0.324,8.1),(0.439,1.5),(0.152,11.5),(0.267,2.4),(0.382,12.3),
    (0.496,5.5),(0.067,1.4),(0.182,8.6),(0.296,6.9),(0.411,10.1),(0.124,4.2),(0.239,6.4),(0.354,7.6),(0.468,2.9),(0.058,6.8),
    (0.172,4.9),(0.287,8.2),(0.401,5.2),(0.116,10.4),(0.23,1.3),(0.345,12.4),(0.46,9.1),(0.087,2.3),(0.202,9.6),(0.317,4.2),
    (0.431,12.9),(0.144,7.4),(0.259,5.1),(0.374,2.8),(0.488,6.2),(0.073,10.6),(0.188,3.6),(0.302,7.1),(0.417,0.7),(0.13,1.9),
    (0.245,12.1),(0.36,6.1),(0.474,4.1),(0.101,8.3),(0.216,2.6),(0.331,11.3),(0.445,8.8),(0.158,9.6),(0.273,7.1),(0.388,4.1),
    (0.502,9.3),(0.053,4.6),(0.167,11.1),(0.281,4.7),(0.396,9.1),(0.109,6.1),(0.224,8.9),(0.339,5.7),(0.453,10.8),(0.08,9.2),
    (0.195,2.3),(0.31,9.9),(0.424,6.2),(0.137,3.1),(0.252,4.4),(0.367,11.6),(0.481,0.9),(0.094,7.6),(0.209,6.3),(0.323,2.9),
    (0.438,7.5),(0.151,0.8),(0.266,11.8),(0.381,5.9),(0.495,3.8),(0.066,8.1),(0.181,12.4),(0.295,0.8),(0.41,7.4),(0.123,12.1),
    (0.238,9.2),(0.353,1.9),(0.467,11.7),(0.061,1.9),(0.175,5.5),(0.289,10.8),(0.404,2.6),(0.12,5.9),(0.235,1.1),(0.35,10.2),
    (0.464,4.3),(0.091,11.4),(0.206,4.8),(0.321,6.2),(0.435,9.8),(0.148,8.4),(0.263,6.6),(0.378,9.3),(0.492,7.2),(0.078,3.1),
    (0.193,7.8),(0.307,2.1),(0.422,4.8),(0.134,10.9),(0.249,3.3),(0.364,8.1),(0.478,6.6),(0.099,0.7),(0.214,9.5),(0.329,7.9),
    (0.443,2.2),(0.156,5.2),(0.271,1.2),(0.386,10.7),(0.5,11.7),(0.057,7.7),(0.171,0.6),(0.286,5.4),(0.4,11.4),(0.114,2.5),
    (0.229,11.9),(0.343,3.8),(0.458,7.6),(0.085,4.9),(0.2,8.1),(0.315,11.7),(0.429,5.3),(0.142,2.1),(0.257,10.6),(0.372,0.9),
    (0.486,9.9),(0.071,12.3),(0.186,5.1),(0.3,3.9),(0.415,8.6),(0.128,6.7),(0.243,4.9),(0.358,9.8),(0.472,12.4),(0.106,9.4),
    (0.221,0.8),(0.336,6.6),(0.45,4.9),(0.163,7.8),(0.278,9.9),(0.393,6.4),(0.507,3.1),(0.05,10.3),(0.165,8.9),(0.279,3.2),
    (0.394,1.1),(0.108,12.7),(0.222,6.8),(0.337,11.8),(0.452,2.7),(0.083,7.9),(0.198,12.2),(0.313,7.7),(0.427,1.8),(0.14,9.8),
    (0.255,6.9),(0.37,4.4),(0.485,5.1),(0.092,6.6),(0.207,3.9),(0.322,9.6),(0.436,10.3),(0.149,4.5),(0.264,8.2),(0.379,11.9),
    (0.493,2.4),(0.069,3.8),(0.184,10.9),(0.298,8.7),(0.413,5.8),(0.126,0.9),(0.241,7.3),(0.356,4.7),(0.47,7.9),(0.112,4.8),
    (0.227,2.8),(0.342,8.4),(0.457,12.6),(0.084,1.1),(0.199,4.4),(0.314,0.6),(0.428,12.2),(0.141,11.4),(0.256,2.1),(0.371,6.8),
    (0.484,10.2),(0.064,9.8),(0.179,3.4),(0.293,12.6),(0.407,7.3),(0.121,7.2),(0.236,12.7),(0.351,8.9),(0.465,1.9),(0.098,3.2),
    (0.362,14.6),(0.367,19.3),(0.371,23.1),(0.374,16.2),(0.378,12.8),(0.382,21.4),(0.385,17.7),(0.389,25.3),(0.392,13.9),(0.396,19.8),
    (0.399,15.4),(0.403,22.6),(0.406,12.4),(0.409,18.1),(0.413,24.7),(0.416,14.2),(0.419,20.6),(0.423,16.9),(0.426,13.1),(0.429,23.8),
    (0.433,18.4),(0.436,15.1),(0.439,21.9),(0.443,12.7),(0.446,17.3),(0.449,25.8),(0.453,14.8),(0.456,20.2),(0.459,16.1),(0.463,22.9),
    (0.466,13.4),(0.469,19.1),(0.473,15.9),(0.476,24.2),(0.479,12.2),(0.483,17.9),(0.486,21.2),(0.489,14.5),(0.493,18.8),(0.496,23.4),
    (0.499,13.7),(0.503,16.6),(0.506,20.9),(0.509,15.2),(0.513,12.9),(0.516,19.6),(0.519,22.1),(0.523,14.1),(0.526,17.4),(0.53,12.6),
    (0.533,18.3),(0.537,15.7),(0.541,21.6),(0.545,13.3),(0.549,19.4),(0.553,10.6),(0.557,14.9),(0.562,9.2),(0.568,16.4),(0.575,12.1),
    (0.368,26.8),(0.387,28.4),(0.408,27.1),(0.427,29.6),(0.447,26.3),(0.468,28.7),(0.488,26.9),(0.507,28.1),(0.527,25.4),(0.414,9.4),
    (0.434,11.2),(0.454,10.3),(0.474,9.8),(0.494,11.6),(0.514,10.7),(0.534,9.1),(0.544,6.2),(0.552,3.4),(0.527,5.8),(0.518,2.1),
    (0.041,2.1),(0.044,4.6),(0.046,0.7),(0.049,3.3),(0.052,1.4),(0.054,5.2),(0.056,0.9),(0.059,2.8),(0.061,4.9),(0.064,1.6),
    (0.066,3.7),(0.069,0.6),(0.071,5.6),(0.073,2.4),(0.076,4.1),(0.078,1.1),(0.081,3.9),(0.083,0.8),(0.086,5.3),(0.088,2.7),
    (0.091,1.3),(0.093,4.4),(0.096,0.6),(0.098,3.1),(0.101,5.7),(0.103,1.7),(0.106,3.6),(0.108,0.9),(0.111,4.8),(0.113,2.2),
    (0.116,0.7),(0.118,3.4),(0.121,5.1),(0.123,1.8),(0.126,4.2),(0.128,0.6),(0.131,2.9),(0.133,5.4),(0.136,1.2),(0.138,3.8),
    (0.141,0.8),(0.143,4.7),(0.146,2.3),(0.148,5.9),(0.151,1.5),(0.153,3.2),(0.156,0.7),(0.158,4.5),(0.0395,5.6),(0.0425,1.2),
    (0.452,8.4),(0.458,11.9),(0.463,6.2),(0.468,14.7),(0.472,9.3),(0.477,12.6),(0.481,7.1),(0.486,16.3),(0.49,10.4),(0.495,13.8),
    (0.499,8.9),(0.504,18.2),(0.508,11.2),(0.512,7.6),(0.517,14.1),(0.521,9.7),(0.525,16.9),(0.529,11.5),(0.534,13.3),(0.538,8.2),
    (0.542,17.4),(0.546,10.8),(0.551,13.9),(0.555,7.9),(0.559,12.2),(0.564,15.6),(0.569,9.4),(0.573,14.3),(0.578,11.1),(0.583,8.6),
    (0.461,18.9),(0.479,21.7),(0.497,19.4),(0.515,23.6),(0.532,20.8),(0.548,22.9),(0.466,3.2),(0.501,4.7),(0.536,6.8),(0.571,5.1),
]

atlanta = [
    (0.3594,291.5),(0.3267,252.7),(0.3340,191.8),(0.3808,214.1),(0.3826,175.4),(0.3717,136.3),(0.459,238.4),(0.357,117.5),
    (0.358,106.9),(0.3074,110.3),(0.1625,104.8),(0.1655,113.0),(0.2413,88.4),(0.2673,88.4),(0.2655,85.0),(0.1322,79.8),
    (0.1836,80.9),(0.1565,76.0),(0.1583,65.8),(0.3383,92.5),(0.3668,80.9),(0.4032,79.8),(0.4274,108.3),(0.4303,98.6),
    (0.434,97.6),(0.4158,104.8),(0.4124,67.8),(0.4106,67.2),(0.4536,105.5),(0.4475,100.4),
    (0.5392,288.1),(0.5574,295.9),(0.561,202.4),(0.4755,145.6),(0.49,150.0),(0.5452,135.0),(0.4937,117.5),(0.5076,116.5),
    (0.4997,111.7),(0.5574,111.0),(0.5556,103.2),(0.5447,96.0),(0.5507,98.0),(0.6265,108.9),(0.4706,106.9),(0.4706,102.1),
    (0.498,94.5),(0.578,94.2),(0.7775,94.5),(0.5567,85.0),(0.593,85.0),(0.5852,78.8),(0.493,85.0),(0.4719,81.5),
    (0.476,75.4),(0.4797,69.6),(0.4943,67.8),(0.4846,64.4),(0.4991,63.7),(0.4882,57.5),(0.4688,66.2),(0.4628,61.0),
    (0.4566,55.9),(0.4506,58.3),(0.5356,71.3),(0.5416,67.8),(0.5525,68.8),(0.5476,61.6),(0.5507,58.3),(0.5658,61.0),
    (0.5912,54.9),(0.578,47.3),(0.5749,40.5),(0.5385,61.0),
    (0.678,49.7),(0.675,33.6),(0.692,34.6),(0.76,36.0),(0.6185,30.2),(0.5912,21.6),(0.6094,19.9),(0.6094,17.2),(0.5943,10.3),
    (0.1917,59.3),(0.19,50.0),(0.2233,59.3),(0.2276,51.4),(0.1292,45.6),(0.12,37.0),(0.1048,31.8),(0.0927,26.7),
    (0.0836,26.7),(0.062,31.8),(0.0625,24.0),(0.0503,14.8),(0.1946,40.5),(0.2,36.3),(0.1838,38.7),(0.1796,46.6),
    (0.211,43.9),(0.2263,41.1),(0.2354,43.9),(0.2366,57.5),(0.2414,47.3),(0.25,43.2),(0.2563,43.9),(0.2715,47.3),
    (0.2836,40.5),(0.2927,63.8),(0.3079,47.3),(0.3037,54.4),(0.291,47.9),(0.2806,55.5),(0.3389,64.8),(0.3413,57.3),
    (0.3492,59.7),(0.3553,60.7),(0.3571,54.6),(0.3632,53.2),(0.3705,48.8),(0.3826,46.6),(0.3917,52.0),(0.3977,39.7),
    (0.4038,36.3),(0.4129,51.4),(0.4188,47.3),(0.4309,64.5),(0.4401,57.6),(0.4461,59.4),(0.4552,50.8),(0.4673,52.5),(0.4703,58.7),
    (0.0177,4.4),(0.0662,26.8),(0.0753,21.6),(0.0965,26.1),(0.0995,19.9),(0.1147,31.0),(0.1419,31.9),(0.1438,24.1),
    (0.156,23.4),(0.1238,19.9),(0.1662,34.4),(0.1783,27.6),(0.1796,40.4),(0.1965,38.7),(0.2087,37.7),(0.2117,47.3),
    (0.242,41.4),(0.2602,44.8),(0.2845,47.3),(0.2905,50.7),(0.2954,62.0),(0.3087,43.9),(0.3299,63.7),(0.3299,54.1),
    (0.336,48.9),(0.345,59.1),(0.348,42.0),(0.3511,54.1),(0.3663,47.3),(0.3693,49.0),(0.3815,50.7),(0.3845,61.0),
    (0.4057,44.1),(0.4348,94.8),(0.4694,82.6),(0.4725,76.7),(0.4815,72.3),(0.4846,66.5),(0.4937,94.8),(0.4979,71.6),
    (0.503,64.8),(0.5139,58.6),(0.518,54.5),(0.5422,95.4),(0.5332,64.8),(0.5755,50.7),(0.5847,30.2),(0.5907,47.3),
    (0.5725,37.0),(0.5392,31.9),(0.5452,25.0),
    (0.5658,43.9),(0.5598,38.7),(0.5567,31.8),(0.5416,31.8),(0.5295,30.1),(0.5143,37.0),(0.5174,47.3),(0.5113,57.5),
    (0.5265,55.9),(0.4962,54.2),(0.4841,50.8),(0.478,43.9),(0.4689,47.3),(0.4598,40.5),
    (0.022,1.5),(0.025,3.8),(0.028,0.8),(0.031,5.2),(0.034,2.4),(0.037,7.1),(0.04,1.2),(0.043,4.5),(0.046,9.3),(0.049,2.9),
    (0.052,6.4),(0.055,0.9),(0.058,11.2),(0.061,3.6),(0.064,7.9),(0.067,1.7),(0.07,13.5),(0.073,5.3),(0.076,9.8),(0.079,2.2),
    (0.082,16.4),(0.085,6.9),(0.088,0.7),(0.091,11.7),(0.094,4.1),(0.097,8.6),(0.1,14.9),(0.03,9.5),(0.045,14),(0.06,18.5),
    (0.075,2.8),(0.09,19.5),(0.05,4.9),(0.065,12.4),(0.08,7.2),(0.095,1.8),(0.072,17.5),(0.087,22.8),(0.056,8.1),(0.083,11.1),
    (0.102,3.1),(0.105,7.6),(0.108,12.3),(0.111,1.4),(0.114,18.1),(0.117,5.8),(0.12,10.4),(0.123,2.3),(0.126,15.6),(0.129,7.9),
    (0.132,22.4),(0.135,4.2),(0.138,12.8),(0.141,0.9),(0.144,9.1),(0.147,17.3),(0.15,3.6),(0.153,13.2),(0.156,6.7),(0.159,26.3),
    (0.162,1.8),(0.165,10.9),(0.168,19.7),(0.171,4.9),(0.174,14.4),(0.177,8.2),(0.18,2.5),(0.183,21.6),(0.186,11.5),(0.189,5.4),
    (0.192,16.8),(0.195,0.8),(0.198,9.6),(0.107,20.5),(0.118,25.1),(0.13,12.1),(0.142,27.4),(0.155,19.1),(0.166,29.2),(0.178,24.8),
    (0.19,28.3),(0.2,13.7),(0.113,9.4),(0.137,6.1),(0.161,15.3),(0.185,2.1),(0.197,22.9),(0.124,0.6),(0.149,11.8),(0.172,7.5),
    (0.021,0.8),(0.026,2.1),(0.029,4.3),(0.033,1.1),(0.036,3.4),(0.039,0.6),(0.042,6.2),(0.044,2.7),(0.047,0.9),(0.051,4.8),
    (0.053,1.7),(0.057,3.1),(0.059,6.8),(0.062,0.7),(0.066,2.6),(0.068,5.4),(0.071,1.4),(0.074,8.1),(0.077,3.8),(0.081,0.9),
    (0.084,5.6),(0.086,2.3),(0.089,9.3),(0.092,1.2),(0.096,4.6),(0.099,7.2),(0.101,0.8),(0.104,3.5),(0.106,10.2),(0.109,5.9),
    (0.112,1.6),(0.115,8.4),(0.119,3.2),(0.121,12.6),(0.125,6.4),(0.128,1.1),(0.131,9.7),(0.134,4.3),(0.136,14.1),(0.139,2.6),
    (0.143,7.8),(0.146,0.9),(0.148,11.4),(0.152,5.1),(0.154,16.2),(0.158,3.3),(0.161,9.1),(0.164,1.4),(0.167,12.8),(0.169,6.2),
    (0.173,17.6),(0.176,2.9),(0.179,10.6),(0.182,14.7),(0.184,5.7),(0.187,19.2),(0.191,8.3),(0.194,3.6),(0.196,13.9),(0.199,18.4),
    (0.023,2.6),(0.027,0.6),(0.032,3.1),(0.035,1.4),(0.038,4.8),(0.041,0.7),(0.045,2.2),(0.048,5.6),(0.05,1.3),(0.054,3.7),
    (0.057,0.8),(0.06,2.4),(0.063,5.1),(0.065,1.6),(0.069,3.9),(0.072,0.6),(0.075,6.1),(0.078,2.1),(0.08,4.4),(0.083,1.2),
    (0.087,6.6),(0.09,3.2),(0.093,0.9),(0.095,5.4),(0.098,2.3),(0.101,6.9),(0.103,1.5),(0.107,4.2),(0.11,0.7),(0.113,6.4),
    (0.116,2.8),(0.118,5.1),(0.122,1.2),(0.124,3.6),(0.127,6.7),(0.13,0.8),(0.133,4.9),(0.137,2.4),(0.14,6.2),(0.142,1.1),
    (0.145,3.9),(0.149,0.7),(0.151,6.8),(0.155,2.9),(0.157,4.6),(0.16,1.3),(0.163,5.9),(0.03,6.2),(0.043,7.1),(0.058,7.7),
    (0.067,0.5),(0.079,6.9),(0.091,7.8),(0.105,0.5),(0.121,8.1),(0.135,0.6),(0.147,8.9),(0.159,0.6),(0.034,0.5),(0.052,0.6),
    (0.202,4.4),(0.205,18.6),(0.208,9.2),(0.211,26.7),(0.214,1.7),(0.217,13.4),(0.22,6.3),(0.223,31.2),(0.226,10.8),(0.229,21.3),
    (0.232,3.2),(0.235,15.7),(0.238,7.9),(0.241,28.4),(0.244,1.1),(0.247,12.1),(0.25,19.9),(0.253,5.6),(0.256,34.5),(0.259,9.7),
    (0.262,16.2),(0.265,2.4),(0.268,24.6),(0.271,11.3),(0.274,6.2),(0.277,30.1),(0.28,14.6),(0.283,1.9),(0.286,20.4),(0.289,8.8),
    (0.292,37.2),(0.295,4.6),(0.298,13.9),(0.207,33.4),(0.218,23.7),(0.231,11.9),(0.243,36.1),(0.255,26.3),(0.267,4.1),(0.279,21.8),
    (0.291,27.4),(0.213,7.5),(0.237,2.8),(0.261,8.1),(0.285,12.6),(0.299,0.9),(0.225,16.9),(0.249,8.6),(0.273,17.7),(0.297,22.4),
    (0.301,3.8),(0.304,15.3),(0.307,8.4),(0.31,27.6),(0.313,1.3),(0.316,19.8),(0.319,11.4),(0.322,34.2),(0.325,5.7),(0.328,22.1),
    (0.331,13.9),(0.334,2.6),(0.337,29.8),(0.34,9.1),(0.343,17.4),(0.346,0.8),(0.349,38.3),(0.352,6.9),(0.355,24.5),(0.358,14.2),
    (0.361,3.1),(0.364,31.6),(0.367,10.7),(0.37,19.4),(0.373,1.6),(0.376,26.8),(0.379,7.8),(0.382,41.1),(0.385,16.1),(0.388,4.3),
    (0.391,33.7),(0.394,12.4),(0.397,23.1),(0.303,41.5),(0.312,6.2),(0.324,39.2),(0.336,20.6),(0.348,28.4),(0.36,9.3),(0.372,36.2),
    (0.384,28.9),(0.396,5.4),(0.308,23.5),(0.32,2.9),(0.332,8.7),(0.344,12.5),(0.356,18.1),(0.368,0.7),(0.38,13.5),(0.392,20.7),
    (0.399,1.4),(0.315,32.8),(0.339,35.7),(0.363,23.9),(0.387,10.3),
    (0.401,17.6),(0.404,4.9),(0.407,29.3),(0.41,11.6),(0.413,2.1),(0.416,22.7),(0.419,8.3),(0.422,38.6),(0.425,14.9),(0.428,0.9),
    (0.431,26.1),(0.434,6.4),(0.437,19.2),(0.44,33.4),(0.443,10.8),(0.446,2.7),(0.449,24.3),(0.452,15.7),(0.455,43.9),(0.458,5.2),
    (0.461,30.8),(0.464,12.9),(0.467,1.5),(0.47,21.4),(0.473,8.8),(0.476,36.7),(0.479,17.1),(0.482,3.4),(0.485,27.5),(0.488,11.3),
    (0.491,40.2),(0.494,6.1),(0.497,19.8),(0.406,40.4),(0.418,31.7),(0.43,12.2),(0.442,44.6),(0.454,28.2),(0.466,38.3),(0.478,25.4),
    (0.49,32.9),(0.412,16.3),(0.424,3.6),(0.436,27.9),(0.448,7.3),(0.46,18.6),(0.472,0.8),(0.484,13.6),(0.496,9.4),(0.403,25.5),
    (0.427,20.3),(0.451,3.9),(0.475,29.6),(0.499,24.7),(0.415,9.8),(0.439,14.2),(0.463,9.6),(0.487,22.9),
    (0.502,2.9),(0.505,14.7),(0.508,28.9),(0.511,7.7),(0.514,20.6),(0.517,1.2),(0.52,35.4),(0.523,11.9),(0.526,24.1),(0.529,5.3),
    (0.532,17.8),(0.535,42.3),(0.538,9.1),(0.541,26.7),(0.544,2.4),(0.547,15.6),(0.55,33.8),(0.553,6.8),(0.556,21.9),(0.559,12.4),
    (0.562,1.7),(0.565,28.1),(0.568,8.6),(0.571,18.4),(0.574,3.9),(0.577,24.9),(0.58,11.2),(0.583,6.1),(0.586,16.3),(0.589,2.8),
    (0.592,12.9),(0.595,5.4),(0.598,25.3),(0.603,8.7),(0.608,3.5),(0.507,38.9),(0.519,16.4),(0.531,30.3),(0.543,21.4),(0.555,39.7),
    (0.567,14.1),(0.579,34.6),(0.591,27.8),(0.513,10.6),(0.525,3.1),(0.537,13.3),(0.549,8.2),(0.561,17.7),(0.573,10.1),(0.585,20.8),
    (0.597,14.8),(0.612,11.9),(0.618,4.6),(0.625,8.8),
    (0.421,28.6),(0.426,44.9),(0.432,33.1),(0.437,52.7),(0.441,24.6),(0.445,39.8),(0.449,47.2),(0.453,31.4),(0.457,26.8),(0.461,42.3),
    (0.465,35.9),(0.469,28.1),(0.473,49.6),(0.477,32.6),(0.481,40.7),(0.485,25.3),(0.489,45.6),(0.493,37.2),(0.497,29.9),(0.501,51.3),
    (0.504,34.7),(0.508,43.5),(0.512,27.4),(0.516,39.1),(0.52,48.3),(0.524,31.8),(0.528,44.2),(0.532,22.7),(0.536,36.4),(0.54,52.1),
    (0.544,29.3),(0.548,46.8),(0.552,33.9),(0.556,26.2),(0.56,42.9),(0.564,35.1),(0.568,49.4),(0.572,24.8),(0.576,38.6),(0.58,45.1),
    (0.584,28.7),(0.588,36.9),(0.592,22.4),(0.596,41.2),(0.6,31.6),(0.605,26.4),(0.61,38.1),(0.615,23.2),(0.42,19.8),(0.43,23.9),
    (0.44,29.1),(0.45,21.7),(0.46,25.6),(0.47,33.4),(0.48,22.1),(0.49,27.8),(0.5,23.6),(0.51,32.4),(0.52,26.1),(0.53,39.8),
    (0.54,24.3),(0.55,28.9),(0.56,21.3),(0.57,31.9),(0.58,26.6),(0.59,34.2),(0.6,19.6),(0.474,55.3),(0.526,58.1),(0.562,54.7),
    (0.422,48.1),(0.425,31.6),(0.428,56.3),(0.431,38.9),(0.434,62.1),(0.437,27.4),(0.44,44.7),(0.443,68.2),(0.446,35.3),(0.449,53.6),
    (0.452,29.8),(0.455,61.4),(0.458,41.9),(0.461,33.2),(0.464,57.8),(0.467,46.4),(0.47,26.1),(0.473,64.3),(0.476,39.6),(0.479,51.2),
    (0.482,31.1),(0.485,59.7),(0.488,43.4),(0.491,28.3),(0.494,66.8),(0.497,47.6),(0.5,36.2),(0.503,55.4),(0.506,25.9),(0.509,62.7),
    (0.512,41.3),(0.515,50.1),(0.518,33.8),(0.521,69.4),(0.524,44.9),(0.527,28.6),(0.53,58.7),(0.533,37.4),(0.536,65.1),(0.539,48.3),
    (0.542,27.2),(0.545,54.9),(0.548,40.6),(0.551,70.6),(0.554,34.7),(0.557,49.2),(0.56,29.5),(0.563,63.3),(0.566,42.1),(0.569,55.9),
    (0.572,32.3),(0.575,60.2),(0.578,38.1),(0.581,51.7),(0.584,26.8),(0.587,45.6),(0.59,57.1),(0.593,35.9),(0.596,49.8),(0.599,30.7),
    (0.603,44.3),(0.607,37.8),(0.611,52.4),(0.616,29.1),(0.62,41.7),(0.424,71.3),(0.447,72.4),(0.468,69.9),(0.486,71.8),(0.508,68.6),
    (0.529,66.2),(0.55,62.8),(0.571,70.9),(0.592,64.6),(0.433,24.8),(0.456,25.6),(0.478,24.2),(0.498,26.7),(0.519,25.1),(0.541,24.5),
    (0.562,25.3),(0.583,24.1),(0.605,25.7),(0.438,19.2),(0.459,15.6),(0.481,21.3),(0.503,17.9),(0.523,13.8),(0.546,19.6),(0.567,16.3),
    (0.588,11.8),(0.609,14.4),(0.441,6.7),(0.465,4.2),(0.487,8.9),(0.511,5.1),(0.533,1.9),(0.556,9.3),(0.578,4.8),(0.601,2.2),
    (0.502,41.6),(0.505,58.9),(0.508,36.3),(0.511,72.8),(0.514,47.1),(0.517,63.5),(0.52,39.2),(0.523,54.6),(0.526,44.7),(0.529,76.1),
    (0.532,50.3),(0.535,35.8),(0.538,61.2),(0.541,45.9),(0.544,68.4),(0.547,38.6),(0.55,52.8),(0.553,42.4),(0.556,74.3),(0.559,57.2),
    (0.562,37.1),(0.565,64.8),(0.568,46.2),(0.571,53.4),(0.574,40.8),(0.577,67.7),(0.58,49.6),(0.583,36.9),(0.586,59.3),(0.589,44.1),
    (0.592,71.2),(0.595,51.1),(0.598,39.4),(0.601,62.6),(0.604,47.8),(0.608,55.9),(0.612,43.3),(0.616,66.1),(0.619,35.4),(0.623,48.7),
]

titles = ["Portland", "Miami", "Minneapolis/St\u2212Paul", "Atlanta"]
ylabels = ["2012 Ridership Per Trip Per Capita", "2013 Ridership Per Trip Per Capita",
           "2012 Ridership Per Trip Per Capita", "2014 Ridership Per Trip Per Capita"]
ymax = [0.01, 0.015, 0.02, 0.03]
ystep = [0.0025, 0.005, 0.005, 0.01]
ydigits = [4, 3, 3, 2]
xticks = [0, 0.25, 0.5, 0.75, 1.0]
xlabel = "% of Residents Ed:High School"

W, H = 1267, 746
fig = plt.figure(figsize=(W / 100, H / 100), dpi=100)

# panel boxes in pixels: left, top, right, bottom
boxes = [(85, 36, 618, 328), (700.7, 36, 1242, 328),
         (76.7, 410.7, 618, 702.7), (692.3, 410.7, 1242, 702.7)]
ylab_right = [28, 650, 28, 649]

for i, pts in enumerate([portland, miami, minneapolis, atlanta]):
    l, t, r, b = boxes[i]
    ax = fig.add_axes([l / W, 1 - b / H, (r - l) / W, (b - t) / H])
    x = np.array([p[0] for p in pts])
    y = np.array([p[1] for p in pts]) * 1e-4

    ax.scatter(x, y, s=17, c="black", alpha=0.5, linewidths=0, zorder=2)

    # linear fit with 95% band, like geom_smooth(method = "lm")
    n = len(x)
    b1, b0 = np.polyfit(x, y, 1)
    xs = np.linspace(x.min(), x.max(), 100)
    yhat = b0 + b1 * xs
    s = np.sqrt(np.sum((y - (b0 + b1 * x)) ** 2) / (n - 2))
    se = s * np.sqrt(1 / n + (xs - x.mean()) ** 2 / np.sum((x - x.mean()) ** 2))
    ax.fill_between(xs, yhat - 1.96 * se, yhat + 1.96 * se, color="#999999", alpha=0.4, lw=0, zorder=3)
    ax.plot(xs, yhat, color="red", lw=1.6, zorder=4)

    ax.set_xlim(0, 1)
    ax.set_ylim(0, ymax[i])
    ax.set_xticks(xticks)
    ax.set_xticklabels([f"{v:.2f}" for v in xticks])
    yt = np.arange(0, ymax[i] + ystep[i] / 2, ystep[i])
    ax.set_yticks(yt)
    ax.set_yticklabels([f"{v:.{ydigits[i]}f}" for v in yt])

    ax.grid(True, color="#CCCCCC", lw=0.8)
    ax.set_axisbelow(True)
    for side in ["top", "right"]:
        ax.spines[side].set_visible(False)
    for side in ["left", "bottom"]:
        ax.spines[side].set_color("black")
        ax.spines[side].set_linewidth(0.9)
    ax.tick_params(length=2.5, width=0.8, color="#333333", labelcolor="#4D4D4D", labelsize=11, pad=1.5)

    ax.set_xlabel(xlabel, fontsize=13, labelpad=0.5)
    ax.set_ylabel(ylabels[i], fontsize=13)
    ax.yaxis.set_label_coords((ylab_right[i] - l) / (r - l), 0.5)
    ax.set_title(titles[i], loc="left", fontsize=16, pad=8.5)

fig.savefig("out.png", dpi=100)
